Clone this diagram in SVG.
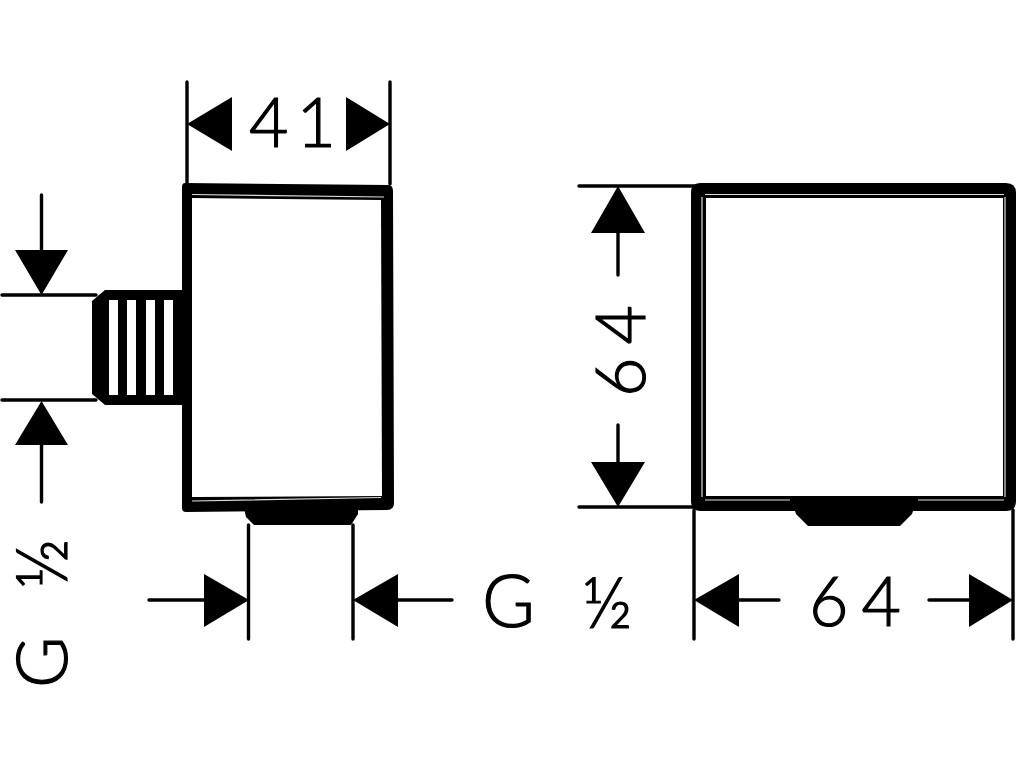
<svg xmlns="http://www.w3.org/2000/svg" width="1024" height="768" viewBox="0 0 1024 768">
<style>
.bg{fill:#fff}
.k{fill:#000}
.w{fill:#fff}
.hl{fill:none;stroke:#ddd;stroke-width:1.2}
.d{stroke:#000;stroke-width:3.4;fill:none;stroke-linecap:round}
.t{font-family:Lato,"Liberation Sans",sans-serif;font-weight:300;fill:#000;stroke:#000;stroke-width:1.2}
</style>
<rect class="bg" width="1024" height="768"/>
<g id="connectors">
<path class="d" d="M187 82V184M390 82V184"/>
<path class="d" d="M2 295H96M2 400H96M41.500 195V250M41.500 445V502"/>
<path class="d" d="M248.500 525V639M353 525V639M149 600H204M398 600H452"/>
<path class="d" d="M579 186H695M579 507H695M618 233V275M618 425V462"/>
<path class="d" d="M694 510V639M1013 510V639M739 600H779M929 600H969"/>
<path class="k" d="M187 124L232 97V151ZM390 124L346 97V151Z"/>
<path class="k" d="M15 250H68L41.500 295ZM41.500 401L68 445H15Z"/>
<path class="k" d="M249 600L204 574V627ZM353 600L398 574V627Z"/>
<path class="k" d="M618 186L645 233H591ZM618 507L591 462H645Z"/>
<path class="k" d="M694 600L739 574V627ZM1013 600L969 574V627Z"/>
</g>
<g id="side-view">
<path class="k" d="M185 183L388 185Q393 185 393 191L394 503Q394 510 387 510L186 512Q182 512 182 508V187Q182 183 185 183Z"/>
<path class="w" d="M192 198L381 200L382 496L192 497Z"/>
<path class="hl" d="M192 194.500L384 197M192 501L381 497.500"/>
<path class="k" d="M105 290H184V405H105L92 394V301Z"/>
<path class="w" d="M109 300H118V395H109ZM127 300H136V395H127ZM146 300H155V395H146ZM164 300H173V395H164Z"/>
<path class="k" d="M244 508H358V514L351 525H254L246 517Z"/>
</g>
<g id="front-view">
<path class="k" d="M700 183H1006Q1016 183 1016 193V501Q1016 511 1006 511H701Q691 511 691 501V193Q691 183 700 183Z"/>
<path class="w" d="M706 198H1003V496H706Z"/>
<path class="hl" d="M705 194.500H1004M702 197V497M1005 197V497M705 500H790M918 500H1004"/>
<path class="k" d="M790 496H918L912 514L900 526H808L796 514Z"/>
</g>
<g id="labels">
<text class="t" x="249" y="147" font-size="68" letter-spacing="8">41</text>
<text class="t" x="482" y="627" font-size="72">G</text>
<text class="t" x="582" y="628" font-size="70">½</text>
<text class="t" x="809" y="626" font-size="68" letter-spacing="13">64</text>
<text class="t" transform="translate(645 397) rotate(-90)" font-size="68" letter-spacing="13">64</text>
<text class="t" transform="translate(67 688) rotate(-90)" font-size="70">G</text>
<text class="t" transform="translate(67 589) rotate(-90)" font-size="70">½</text>
</g>
</svg>
